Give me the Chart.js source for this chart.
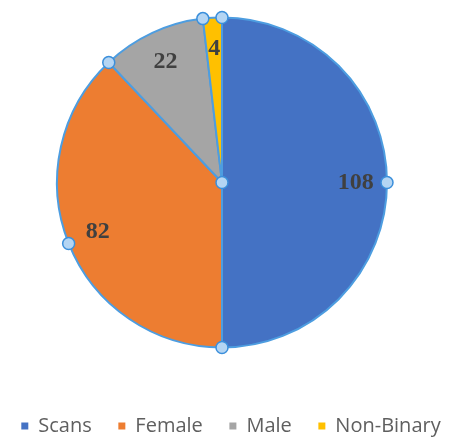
<!DOCTYPE html>
<html>
<head>
<meta charset="utf-8">
<script src="https://cdn.jsdelivr.net/npm/chart.js@4"></script>
<style>
  html, body { margin: 0; padding: 0; background: #fff; }
  #wrap { width: 450px; height: 447px; }
</style>
</head>
<body>
<div id="wrap"><canvas id="myChart"></canvas></div>
<script>
'use strict'
// values
let labels = ['Scans', 'Female', 'Male', 'Non-Binary'];
let counts = [108, 82, 22, 4];
let sliceColors = ['#4472C4', '#ED7D31', '#A5A5A5', '#FFC000'];

// numbers on the slices
const sliceLabels = {
  id: 'sliceLabels',
  afterDatasetsDraw(chart) {
    let ctx = chart.ctx;
    let meta = chart.getDatasetMeta(0);
    ctx.save();
    ctx.font = 'bold 24px "Liberation Serif", serif';
    ctx.fillStyle = '#404040';
    ctx.textAlign = 'center';
    ctx.textBaseline = 'middle';
    meta.data.forEach(function (arc, i) {
      let mid = (arc.startAngle + arc.endAngle) / 2;
      let r = arc.outerRadius * 0.81;
      ctx.fillText(counts[i], arc.x + Math.cos(mid) * r, arc.y + Math.sin(mid) * r);
    });
    ctx.restore();
  }
};

// the little selection handles round the pie
const handles = {
  id: 'handles',
  afterDraw(chart) {
    let ctx = chart.ctx;
    let meta = chart.getDatasetMeta(0);
    let pts = [];
    meta.data.forEach(function (arc) {
      let R = arc.outerRadius;
      pts.push([arc.x + Math.cos(arc.startAngle) * R, arc.y + Math.sin(arc.startAngle) * R]);
      if (arc.endAngle - arc.startAngle > Math.PI / 2) {
        let mid = (arc.startAngle + arc.endAngle) / 2;
        pts.push([arc.x + Math.cos(mid) * R, arc.y + Math.sin(mid) * R]);
      }
    });
    let first = meta.data[0];
    pts.push([first.x, first.y]);
    ctx.save();
    pts.forEach(function (p) {
      ctx.beginPath();
      ctx.arc(p[0], p[1], 6, 0, Math.PI * 2);
      ctx.fillStyle = '#b4d5f3';
      ctx.fill();
      ctx.lineWidth = 1.5;
      ctx.strokeStyle = '#3b8fdb';
      ctx.stroke();
    });
    ctx.restore();
  }
};

// legend sits a bit right of the pie centre in the original
const nudgeLegend = {
  id: 'nudgeLegend',
  afterLayout(chart) {
    chart.legend.left += 9;
    chart.legend.right += 9;
  }
};

const data = {
  labels: labels,
  datasets: [{
    data: counts,
    backgroundColor: sliceColors,
    borderColor: '#4d9de0',
    borderWidth: 2,
    radius: 165
  }]
};

const config = {
  type: 'pie',
  data: data,
  options: {
    responsive: true,
    maintainAspectRatio: false,
    animation: false,
    layout: {
      padding: { top: 0, bottom: 1, left: 0, right: 6 }
    },
    plugins: {
      legend: {
        position: 'bottom',
        title: {
          display: true,
          text: ' ',
          font: { size: 10 },
          padding: { top: 28, bottom: 0 }
        },
        labels: {
          boxWidth: 7,
          boxHeight: 7,
          padding: 11,
          color: '#5f5f5f',
          font: { size: 20, family: '"Open Sans", sans-serif' },
          generateLabels(chart) {
            let items = Chart.overrides.pie.plugins.legend.labels.generateLabels(chart);
            items.forEach(function (it, i) {
              it.lineWidth = 0;
              it.strokeStyle = it.fillStyle;
              // wider gaps between entries, like the original
              if (i < items.length - 1) it.text = it.text + '   ';
            });
            return items;
          }
        }
      },
      tooltip: { enabled: false }
    }
  },
  plugins: [sliceLabels, handles, nudgeLegend]
};

var myChart = new Chart(document.getElementById('myChart'), config);
</script>
</body>
</html>
